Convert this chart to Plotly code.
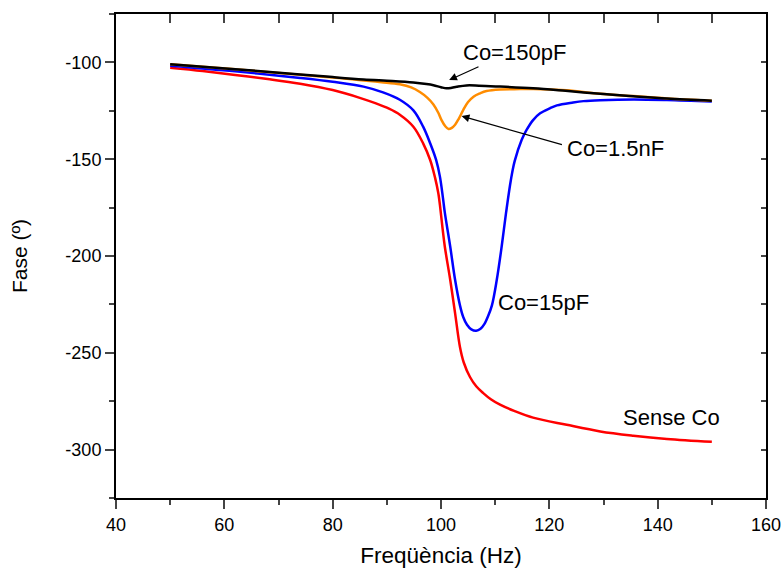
import plotly.graph_objects as go

# ---- data ----
x_sense = [50, 56, 62, 68, 74, 80, 85, 88, 90.4, 92.4, 94.9, 96.7, 98, 98.9, 99.5, 99.9, 100.3,
           100.7, 101.7, 102.6, 103.5, 104.2, 105.35, 106.5, 107.8, 109.2, 110.9, 113.5, 117, 123.2,
           129.4, 135.5, 141.7, 150]
y_sense = [-102.8, -104.5, -106.5, -108.6, -111.0, -114.3, -118.3, -121.2, -123.9, -127.0, -133.2,
           -141.8, -150.4, -159.5, -167.5, -176, -186, -195.1, -212.3, -229.5, -247, -255, -262.5,
           -267.3, -270.8, -274, -276.8, -280, -283.5, -287.2, -290.6, -292.8, -294.5, -296]

x_15p = [50, 62, 74, 80, 85.7, 89.3, 92.4, 94.9, 96.7, 98, 99.1, 99.8, 100.36, 100.7, 101.7, 102.6,
         103.5, 104.1, 104.8, 105.6, 106.5, 107.3, 108.0, 108.7, 109.4, 110.3, 111.2, 112, 112.9,
         113.6, 114.9, 115.8, 117, 118.3, 120.1, 121.4, 124.4, 126.3, 129.4, 135.5, 141.7, 150]
y_15p = [-101.7, -104.6, -108.0, -110.0, -112.5, -115.5, -119.3, -124.8, -133.2, -141.8, -150.4,
         -159, -170, -177.5, -195.1, -212.3, -225.5, -231.5, -235.5, -237.9, -238.6, -237.6, -235.2,
         -231.0, -225.5, -212.3, -195.1, -177.9, -160.7, -151, -140, -134.9, -129.8, -126.3, -123.7,
         -122.2, -120.7, -120.0, -119.5, -119.1, -119.4, -120.2]

x_1n5 = [50, 62, 74, 80, 85.7, 89, 92.4, 94.5, 96.1, 97.5, 98.6, 99.5, 100.1, 100.8, 101.4, 102,
         102.6, 103.3, 104.1, 105, 106, 107.2, 108.4, 110.9, 114.6, 117, 123.2, 129.4, 135.5, 141.7, 150]
y_1n5 = [-100.9, -103.6, -106.4, -107.8, -109.3, -110.2, -111.3, -112.9, -115.3, -118.3, -121.7,
         -126, -129.8, -133, -134.4, -133.8, -132.2, -129, -124.6, -120.5, -117.7, -116, -114.8,
         -114, -113.8, -113.7, -114.4, -116.2, -117.4, -118.6, -119.8]

x_150p = [50, 62, 74, 80, 85.7, 91, 94.9, 97.3, 98.6, 100, 101, 102, 102.9, 104.7, 107, 110.9,
          117, 123, 129.4, 135.5, 141.7, 150]
y_150p = [-100.9, -103.5, -106.2, -107.6, -108.8, -109.6, -110.4, -111.2, -111.8, -112.8, -113.4,
          -113.1, -112.6, -111.9, -112, -112.5, -113.4, -114.7, -116.2, -117.5, -118.7, -119.8]

labels = ["Sense Co", "Co=15pF", "Co=1.5nF", "Co=150pF"]
x_title = "Freqüència (Hz)"
y_title = "Fase (º)"
y_tickvals = [-300, -250, -200, -150, -100]
y_ticktext = ["-300", "-250", "-200", "-150", "-100"]
x_tickvals = [40, 60, 80, 100, 120, 140, 160]
x_ticktext = ["40", "60", "80", "100", "120", "140", "160"]

FONT = "Liberation Sans, Arial, sans-serif"
SM = 1.0

fig = go.Figure()
fig.add_trace(go.Scatter(x=x_sense, y=y_sense, mode="lines", name=labels[0],
                         line=dict(color="#ff0000", width=2.5, shape="spline", smoothing=SM)))
fig.add_trace(go.Scatter(x=x_15p, y=y_15p, mode="lines", name=labels[1],
                         line=dict(color="#0000ff", width=2.5, shape="spline", smoothing=SM)))
fig.add_trace(go.Scatter(x=x_1n5, y=y_1n5, mode="lines", name=labels[2],
                         line=dict(color="#ff8c00", width=2.5, shape="spline", smoothing=SM)))
fig.add_trace(go.Scatter(x=x_150p, y=y_150p, mode="lines", name=labels[3],
                         line=dict(color="#000000", width=2.5, shape="spline", smoothing=SM)))
# invisible trace to bind mirror axes
fig.add_trace(go.Scatter(x=[40], y=[-325], xaxis="x2", yaxis="y2", mode="markers",
                         marker=dict(opacity=0), showlegend=False, hoverinfo="skip"))

fig.update_layout(
    width=783, height=572,
    margin=dict(l=116, r=17, t=14, b=74, autoexpand=False),
    paper_bgcolor="white", plot_bgcolor="white",
    showlegend=False,
    font=dict(family=FONT, color="black", size=18),
    xaxis=dict(range=[40, 160], tickvals=x_tickvals, ticktext=x_ticktext, ticks="outside",
               ticklen=9, tickwidth=1.5, automargin=False,
               showline=True, linecolor="black", linewidth=2, showgrid=False, zeroline=False,
               tickfont=dict(size=18), title=dict(text=x_title, font=dict(size=22.5), standoff=14),
               minor=dict(dtick=10, tick0=40, ticks="outside", ticklen=5, tickwidth=1.5, showgrid=False)),
    yaxis=dict(range=[-325, -75], tickvals=y_tickvals, ticktext=y_ticktext, ticks="outside",
               ticklen=9, tickwidth=1.5, automargin=False,
               showline=True, linecolor="black", linewidth=2, showgrid=False, zeroline=False,
               tickfont=dict(size=18), title=dict(text=y_title, font=dict(size=21), standoff=32),
               minor=dict(dtick=25, tick0=-325, ticks="outside", ticklen=5, tickwidth=1.5, showgrid=False)),
    xaxis2=dict(range=[40, 160], overlaying="x", side="top", anchor="y", dtick=10, tick0=40,
                ticks="inside", ticklen=9, tickwidth=1.5, showticklabels=False, automargin=False,
                showline=True, linecolor="black", linewidth=2, showgrid=False, zeroline=False),
    yaxis2=dict(range=[-325, -75], overlaying="y", side="right", anchor="x", dtick=25, tick0=-325,
                ticks="inside", ticklen=5, tickwidth=1.5, showticklabels=False, automargin=False,
                showline=True, linecolor="black", linewidth=2, showgrid=False, zeroline=False),
)

# arrows
fig.add_annotation(x=101.5, y=-109.1, ax=107.2, ay=-101.9, axref="x", ayref="y", xref="x", yref="y",
                   text="", showarrow=True, arrowhead=2, arrowsize=1.3, arrowwidth=1.2, arrowcolor="black")
fig.add_annotation(x=103.8, y=-127.7, ax=122.6, ay=-142.7, axref="x", ayref="y", xref="x", yref="y",
                   text="", showarrow=True, arrowhead=2, arrowsize=1.3, arrowwidth=1.2, arrowcolor="black")

# labels
for txt, lx, ly in [(labels[3], 113.6, -94.9), (labels[2], 132.3, -144.7),
                    (labels[1], 119.0, -224.0), (labels[0], 142.5, -283.3)]:
    fig.add_annotation(x=lx, y=ly, xref="x", yref="y", text=txt, showarrow=False,
                       xanchor="center", yanchor="middle", font=dict(size=22, color="black"))

fig.write_html("out.html", config={"displayModeBar": False},
               post_script="document.body.style.margin='0';document.body.style.overflow='hidden';")
